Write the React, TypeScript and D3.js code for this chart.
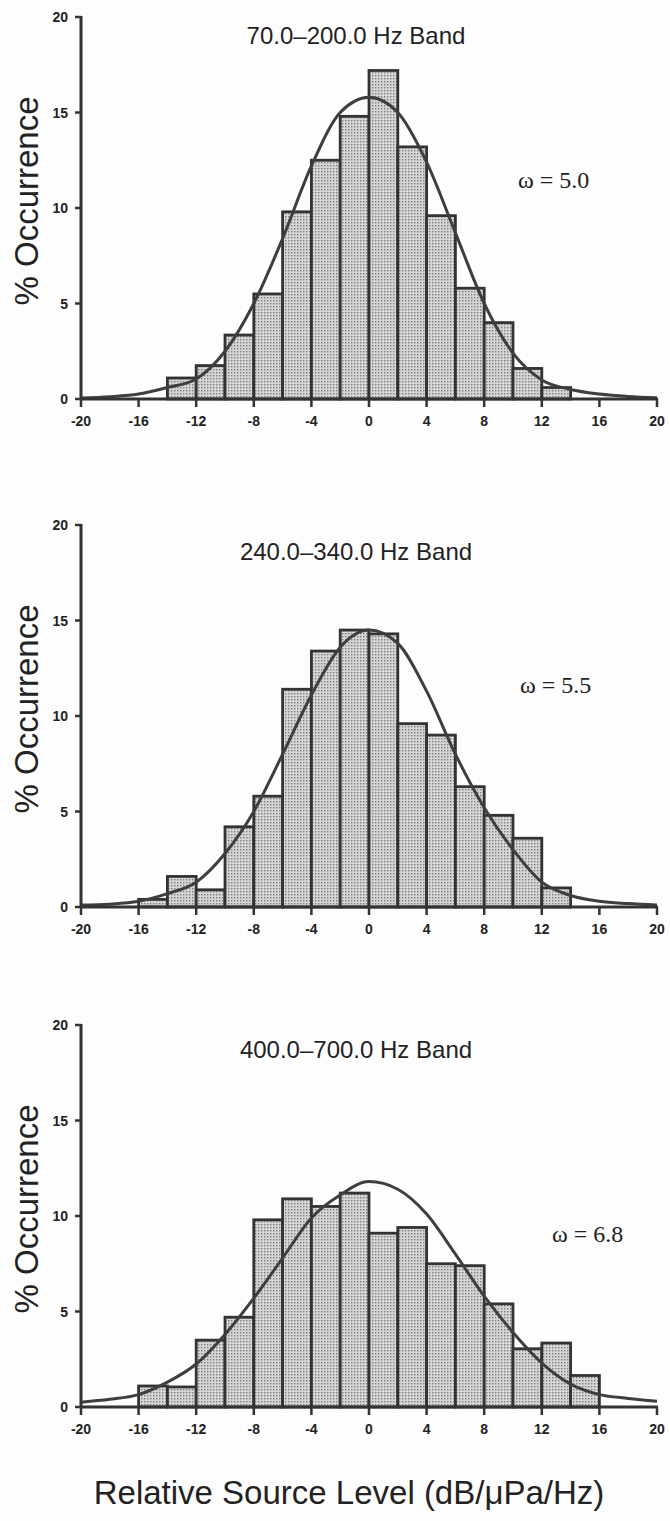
import React from "react";
import * as d3 from "d3";

// ---------- data ----------
const xTickValues = [-20, -16, -12, -8, -4, 0, 4, 8, 12, 16, 20];
const yTickValues = [0, 5, 10, 15, 20];
const bandTitles = ["70.0–200.0 Hz Band", "240.0–340.0 Hz Band", "400.0–700.0 Hz Band"];
const omegaLabels = ["ω = 5.0", "ω = 5.5", "ω = 6.8"];
const yAxisTitle = "% Occurrence";
const xAxisTitle = "Relative Source Level (dB/μPa/Hz)";
const binWidth = 2;

// histogram: left edge of each 2 dB bin, and % occurrence
const bins1 = [-14, -12, -10, -8, -6, -4, -2, 0, 2, 4, 6, 8, 10, 12];
const pct1 = [1.1, 1.75, 3.35, 5.5, 9.8, 12.5, 14.8, 17.2, 13.2, 9.6, 5.8, 4.0, 1.6, 0.6];

const bins2 = [-16, -14, -12, -10, -8, -6, -4, -2, 0, 2, 4, 6, 8, 10, 12];
const pct2 = [0.4, 1.6, 0.9, 4.2, 5.8, 11.4, 13.4, 14.5, 14.3, 9.6, 9.0, 6.3, 4.8, 3.6, 1.0];

const bins3 = [-16, -14, -12, -10, -8, -6, -4, -2, 0, 2, 4, 6, 8, 10, 12, 14];
const pct3 = [1.1, 1.05, 3.5, 4.7, 9.8, 10.9, 10.5, 11.2, 9.1, 9.4, 7.5, 7.4, 5.4, 3.05, 3.35, 1.65];

// fitted curves, read at every 2 dB
const curveX = [-20, -18, -16, -14, -12, -10, -8, -6, -4, -2, 0, 2, 4, 6, 8, 10, 12, 14, 16, 18, 20];
const fit1 = [0.05, 0.12, 0.26, 0.6, 1.05, 2.5, 5.0, 8.4, 12.2, 15.0, 15.8, 15.0, 12.4, 8.7, 5.0, 2.4, 1.0, 0.5, 0.26, 0.13, 0.06];
const fit2 = [0.1, 0.15, 0.3, 0.7, 1.3, 2.8, 5.0, 8.0, 11.1, 13.6, 14.5, 13.8, 11.3, 8.0, 5.2, 3.0, 1.3, 0.6, 0.3, 0.18, 0.1];
const fit3 = [0.25, 0.4, 0.65, 1.3, 2.25, 3.8, 5.7, 7.8, 9.9, 11.1, 11.8, 11.4, 10.1, 8.0, 5.8, 3.9, 2.3, 1.2, 0.65, 0.45, 0.3];

const panelsData = [
  { bins: bins1, pct: pct1, fit: fit1 },
  { bins: bins2, pct: pct2, fit: fit2 },
  { bins: bins3, pct: pct3, fit: fit3 },
];

// ---------- layout ----------
const W = 670;
const H = 1521;
const AX_LEFT = 81;
const AX_RIGHT = 657;
const PANEL_TOPS = [17, 525, 1025];
const PANEL_H = 382;
const TITLE_Y = [44, 560, 1058];
const OMEGA_POS = [
  [518, 188],
  [520, 693],
  [552, 1242],
];
const INK = "#333";
const SANS = "'Liberation Sans', Arial, Helvetica, sans-serif";
const SERIF = "'Liberation Serif', 'Times New Roman', Times, serif";

const xScale = d3.scaleLinear().domain([-20, 20]).range([AX_LEFT, AX_RIGHT]);

function Panel({ idx }: { idx: number }) {
  const top = PANEL_TOPS[idx];
  const bottom = top + PANEL_H;
  const y = d3.scaleLinear().domain([0, 20]).range([bottom, top]);
  const { bins, pct, fit } = panelsData[idx];
  const line = d3
    .line<number>()
    .x((_, i) => xScale(curveX[i]))
    .y((d) => y(d))
    .curve(d3.curveMonotoneX);

  return (
    <g>
      {bins.map((b, i) => (
        <rect
          key={i}
          x={xScale(b)}
          y={y(pct[i])}
          width={xScale(b + binWidth) - xScale(b)}
          height={y(0) - y(pct[i])}
          fill="url(#stipple)"
          stroke={INK}
          strokeWidth={2.8}
        />
      ))}
      <path d={line(fit) || ""} fill="none" stroke="#3e3e3e" strokeWidth={3} strokeLinejoin="round" />
      {/* y axis */}
      <line x1={AX_LEFT} x2={AX_LEFT} y1={top - 1} y2={bottom + 1} stroke={INK} strokeWidth={3} />
      {yTickValues.map((t) => (
        <g key={t}>
          <line x1={AX_LEFT - 6} x2={AX_LEFT} y1={y(t)} y2={y(t)} stroke={INK} strokeWidth={2.5} />
          <text
            x={AX_LEFT - 13}
            y={y(t) + 5}
            textAnchor="end"
            fontFamily={SANS}
            fontWeight="bold"
            fontSize={14}
            fill="#222"
          >
            {t}
          </text>
        </g>
      ))}
      {/* x axis */}
      <line x1={AX_LEFT} x2={AX_RIGHT + 1} y1={bottom} y2={bottom} stroke={INK} strokeWidth={3.2} />
      {xTickValues.map((t) => (
        <g key={t}>
          <line x1={xScale(t)} x2={xScale(t)} y1={bottom} y2={bottom + 8} stroke={INK} strokeWidth={2.5} />
          <text
            x={xScale(t)}
            y={bottom + 27}
            textAnchor="middle"
            fontFamily={SANS}
            fontWeight="bold"
            fontSize={14}
            fill="#222"
          >
            {t}
          </text>
        </g>
      ))}
      <text x={356} y={TITLE_Y[idx]} textAnchor="middle" fontFamily={SANS} fontSize={24} fill="#222">
        {bandTitles[idx]}
      </text>
      <text x={OMEGA_POS[idx][0]} y={OMEGA_POS[idx][1]} fontFamily={SERIF} fontSize={24} fill="#222">
        {omegaLabels[idx]}
      </text>
      <text
        transform={`translate(38,${(top + bottom) / 2 - 7}) rotate(-90)`}
        textAnchor="middle"
        fontFamily={SANS}
        fontSize={33}
        fill="#222"
      >
        {yAxisTitle}
      </text>
    </g>
  );
}

export default function App() {
  return (
    <svg
      width={W}
      height={H}
      viewBox={`0 0 ${W} ${H}`}
      style={{ position: "absolute", left: 0, top: 0, background: "#fdfdfd" }}
    >
      <defs>
        <pattern id="stipple" width={3} height={3} patternUnits="userSpaceOnUse">
          <rect width={3} height={3} fill="#d6d6d6" />
          <rect x={0} y={0} width={1.4} height={1.4} fill="#7c7c7c" />
        </pattern>
      </defs>
      <rect width={W} height={H} fill="#fdfdfd" />
      {[0, 1, 2].map((i) => (
        <Panel key={i} idx={i} />
      ))}
      <text x={349} y={1504} textAnchor="middle" fontFamily={SANS} fontSize={33} fill="#222">
        {xAxisTitle}
      </text>
    </svg>
  );
}
